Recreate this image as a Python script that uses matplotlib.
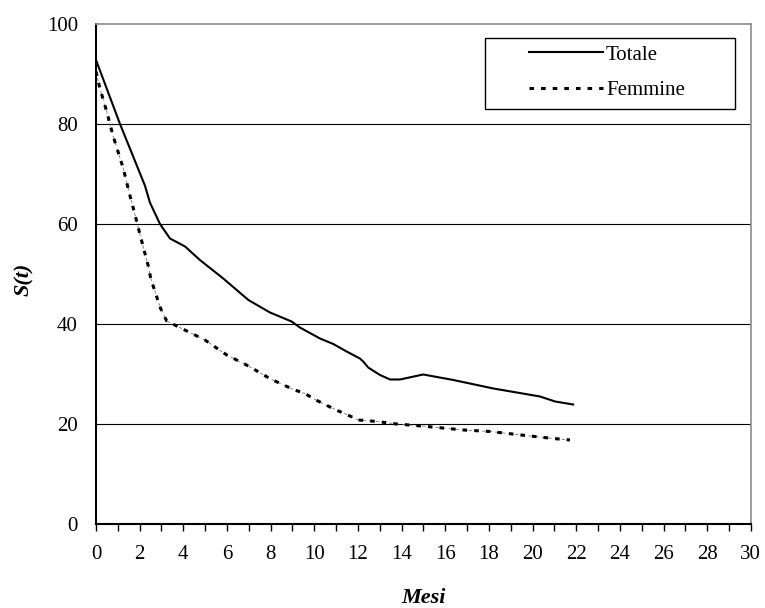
import matplotlib
matplotlib.use('Agg')
import matplotlib.pyplot as plt
from matplotlib.patches import Rectangle
from matplotlib.ticker import MultipleLocator

# survival curves (months, S(t) in %)
totale_x = [0, 1.10, 2.24, 2.47, 2.93, 3.39, 4.08, 4.76, 5.83, 6.98, 7.97, 8.96,
            9.34, 10.26, 10.87, 11.48, 12.09, 12.24, 12.47, 13.01, 13.47, 13.93,
            14.99, 16.37, 18.2, 20.34, 21.03, 21.86]
totale_y = [92.8, 80, 67.7, 64.3, 60, 57.1, 55.5, 52.8, 49.1, 44.8, 42.3, 40.5,
            39.3, 37.1, 36.0, 34.5, 33.1, 32.5, 31.3, 29.8, 28.9, 28.9,
            29.9, 28.8, 27.1, 25.5, 24.5, 23.9]

femmine_x = [0, 0.18, 0.49, 0.77, 1.25, 1.53, 1.79, 2.02, 2.40, 2.51, 2.70, 2.96,
             3.24, 3.93, 4.99, 5.99, 6.98, 8.0, 9.04, 9.57, 10.03, 10.95, 11.48,
             12.02, 12.86, 13.77, 15.15, 16.83, 18.05, 19.88, 20.95, 21.71]
femmine_y = [90.5, 87.1, 82.5, 77.8, 71.1, 66.1, 61.8, 57.8, 51.5, 49.1, 46.5, 43.1,
             40.6, 39.1, 36.8, 33.8, 31.6, 29.0, 26.9, 26.1, 24.9, 22.9, 21.9,
             20.8, 20.5, 20.0, 19.5, 18.8, 18.5, 17.6, 17.1, 16.8]

plt.rcParams['font.family'] = ['Liberation Serif', 'DejaVu Serif']

fig = plt.figure(figsize=(7.65, 6.08), dpi=100)
ax = fig.add_axes([0.1255, 0.1382, 0.856, 0.8223])

ax.plot(totale_x, totale_y, color='black', lw=1.5, label='Totale')
# thin grey trace under the dots, as in the original export
ax.plot(femmine_x, femmine_y, color='#777777', lw=0.6, linestyle=(0, (4, 4)))
ax.plot(femmine_x, femmine_y, color='black', lw=2.2, linestyle=(0, (1.5, 2.3)),
        label='Femmine')

ax.set_xlim(0, 30)
ax.set_ylim(0, 100)
ax.xaxis.set_major_locator(MultipleLocator(2))
ax.xaxis.set_minor_locator(MultipleLocator(1))
ax.yaxis.set_major_locator(MultipleLocator(20))

for yv in [20, 40, 60, 80]:
    ax.axhline(yv, color='black', lw=0.8, zorder=0)

ax.tick_params(axis='x', which='both', direction='out', length=5, width=1,
               labelsize=15, pad=10)
ax.tick_params(axis='y', length=0, labelsize=15, pad=13)

for side in ['top', 'right']:
    ax.spines[side].set_color('#8c8c8c')
    ax.spines[side].set_linewidth(1.2)
for side in ['left', 'bottom']:
    ax.spines[side].set_color('black')
    ax.spines[side].set_linewidth(1.5)

ax.set_xlabel('Mesi', fontsize=16, fontweight='bold', fontstyle='italic')
ax.xaxis.set_label_coords(0.5, -0.148)
ax.xaxis.label.set_verticalalignment('center')
ax.set_ylabel('S(t)', fontsize=16, fontweight='bold', fontstyle='italic')
ax.yaxis.set_label_coords(-0.110, 0.49)
ax.yaxis.label.set_verticalalignment('center')

# legend box drawn by hand so it can be wider than its content
ax.add_patch(Rectangle((0.594, 0.83), 0.382, 0.142, transform=ax.transAxes,
                       facecolor='white', edgecolor='black', lw=1.0, zorder=4))
leg = ax.legend(loc='upper left', bbox_to_anchor=(0.661, 0.958), fontsize=15,
                frameon=False, handlelength=3.55, handletextpad=0.15,
                labelspacing=0.75, borderpad=0, borderaxespad=0)
leg.set_zorder(5)

fig.savefig('out.png', dpi=100)
